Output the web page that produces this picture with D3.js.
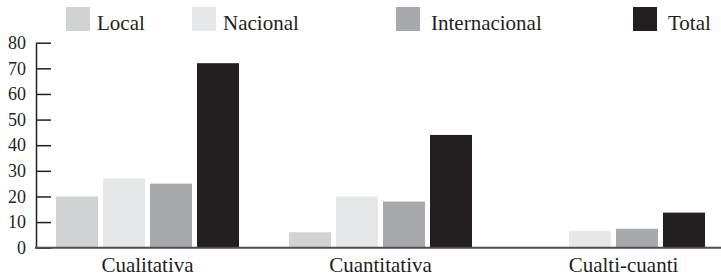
<!DOCTYPE html>
<html>
<head>
<meta charset="utf-8">
<script src="https://cdn.jsdelivr.net/npm/d3@7/dist/d3.min.js"></script>
<style>
  body { margin: 0; background: #fff; }
</style>
</head>
<body>
<script>
var categories = ["Cualitativa", "Cuantitativa", "Cualti-cuanti"];
var seriesNames = ["Local", "Nacional", "Internacional", "Total"];
var local = [20, 6, 0];
var nacional = [27, 20, 6.5];
var internacional = [25, 18, 7.4];
var total = [72, 44, 13.7];
var yTicks = [0, 10, 20, 30, 40, 50, 60, 70, 80];

var colors = ["#d1d2d4", "#e6e7e8", "#a7a9ac", "#231f20"];
var values = [local, nacional, internacional, total];
var serif = "'Liberation Serif', 'Times New Roman', serif";

var width = 721, height = 279;
var svg = d3.select(document.body).append("svg")
  .attr("width", width)
  .attr("height", height);

var y = d3.scaleLinear().domain([0, 80]).range([247.7, 42.7]);
var x0 = d3.scaleBand().domain(categories).range([36, 725])
  .paddingInner(0.2146).paddingOuter(0.0858);
var x1 = d3.scaleBand().domain(seriesNames).range([0, x0.bandwidth()])
  .paddingInner(0.106);

// bars
var groups = svg.selectAll("g.grp")
  .data(categories)
  .enter().append("g")
  .attr("class", "grp")
  .attr("transform", function(d) { return "translate(" + x0(d) + ",0)"; });

groups.selectAll("rect")
  .data(function(d, i) {
    return seriesNames.map(function(s, j) { return { s: s, v: values[j][i], c: colors[j] }; });
  })
  .enter().append("rect")
  .attr("x", function(d) { return x1(d.s); })
  .attr("width", x1.bandwidth())
  .attr("y", function(d) { return y(d.v); })
  .attr("height", function(d) { return y(0) - y(d.v); })
  .attr("fill", function(d) { return d.c; });

// y axis
var yAxis = svg.append("g")
  .attr("transform", "translate(36,0)")
  .call(d3.axisLeft(y).tickValues(yTicks).tickSizeInner(-15).tickSizeOuter(0).tickPadding(10));
yAxis.attr("font-family", null).attr("font-size", null);
yAxis.selectAll("path, line").attr("stroke", "#231f20").attr("stroke-width", 1.5);
yAxis.selectAll("text")
  .style("font-family", serif)
  .style("font-size", "18px")
  .attr("fill", "#231f20");

// baseline
svg.append("line")
  .attr("x1", 35).attr("x2", width)
  .attr("y1", y(0)).attr("y2", y(0))
  .attr("stroke", "#4d4d4f")
  .attr("stroke-width", 2);

// category labels (last one sits a bit right, over its drawn bars)
var catShift = [0, 0, 10];
svg.selectAll("text.cat")
  .data(categories)
  .enter().append("text")
  .attr("class", "cat")
  .attr("x", function(d, i) { return x0(d) + x0.bandwidth() / 2 + catShift[i]; })
  .attr("y", 272)
  .attr("text-anchor", "middle")
  .attr("fill", "#231f20")
  .style("font-family", serif)
  .style("font-size", "21px")
  .text(function(d) { return d; });

// legend
var legendX = [66, 192, 396, 633];
var legend = svg.selectAll("g.leg")
  .data(seriesNames)
  .enter().append("g")
  .attr("class", "leg")
  .attr("transform", function(d, i) { return "translate(" + legendX[i] + ",7)"; });
legend.append("rect")
  .attr("width", 24).attr("height", 24)
  .attr("fill", function(d, i) { return colors[i]; });
legend.append("text")
  .attr("x", function(d, i) { return i >= 2 ? 35 : 31; })
  .attr("y", 23)
  .attr("fill", "#231f20")
  .style("font-family", serif)
  .style("font-size", "21px")
  .text(function(d) { return d; });
</script>
</body>
</html>
